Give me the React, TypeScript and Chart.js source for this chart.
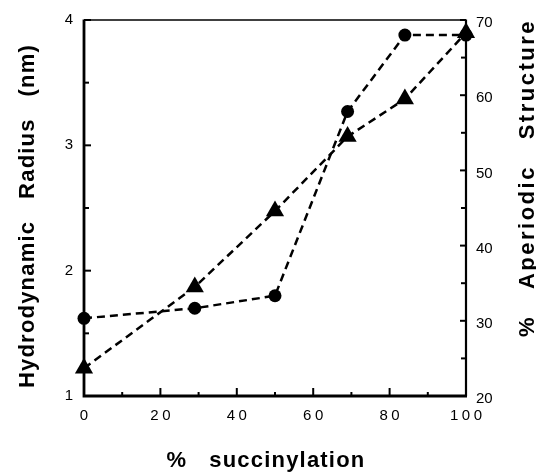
import React, { useEffect, useRef } from 'react';
import { Chart, registerables } from 'chart.js';

Chart.register(...registerables);

// ---- data ----
const succinylation = [0, 29, 50, 69, 84, 100];
const hydrodynamicRadius = [1.62, 1.70, 1.80, 3.27, 3.88, 3.88];
const aperiodicStructure = [23.7, 34.5, 44.6, 54.5, 59.5, 68.3];

const xTitle = '%   succinylation';
const leftTitle = 'Hydrodynamic   Radius   (nm)';
const rightTitle = '%   Aperiodic   Structure';

const FONT = '"Liberation Sans", Arial, Helvetica, sans-serif';

const framePlugin = {
  id: 'framePlugin',
  beforeDatasetsDraw(chart: any) {
    const { ctx, chartArea } = chart;
    const xs = chart.scales.x;
    const ys = chart.scales.y;
    const y1 = chart.scales.y1;
    const { left, right, top, bottom } = chartArea;
    ctx.save();
    ctx.strokeStyle = '#000';
    ctx.lineCap = 'butt';
    // top frame line
    ctx.lineWidth = 1.5;
    ctx.beginPath();
    ctx.moveTo(left, top);
    ctx.lineTo(right, top);
    ctx.stroke();
    // right axis
    ctx.lineWidth = 2.2;
    ctx.beginPath();
    ctx.moveTo(right, top - 0.5);
    ctx.lineTo(right, bottom);
    ctx.stroke();
    // left + bottom axis
    ctx.lineWidth = 2.8;
    ctx.beginPath();
    ctx.moveTo(left, top - 0.5);
    ctx.lineTo(left, bottom);
    ctx.lineTo(right + 1, bottom);
    ctx.stroke();

    // inward ticks
    ctx.lineWidth = 2;
    for (let v = xs.min; v <= xs.max + 1e-9; v += 10) {
      const px = xs.getPixelForValue(v);
      const len = Math.round(v) % 20 === 0 ? 8 : 4;
      ctx.beginPath();
      ctx.moveTo(px, bottom);
      ctx.lineTo(px, bottom - len);
      ctx.stroke();
    }
    for (let v = ys.min; v <= ys.max + 1e-9; v += 0.5) {
      const py = ys.getPixelForValue(v);
      const len = Math.abs(v - Math.round(v)) < 1e-6 ? 7 : 5;
      ctx.beginPath();
      ctx.moveTo(left, py);
      ctx.lineTo(left + len, py);
      ctx.stroke();
    }
    for (let v = y1.min; v <= y1.max + 1e-9; v += 5) {
      const py = y1.getPixelForValue(v);
      const len = Math.round(v) % 10 === 0 ? 6 : 5;
      ctx.beginPath();
      ctx.moveTo(right, py);
      ctx.lineTo(right - len, py);
      ctx.stroke();
    }
    ctx.restore();
  },
  afterDraw(chart: any) {
    const { ctx, chartArea } = chart;
    const xs = chart.scales.x;
    ctx.save();
    ctx.fillStyle = '#000';
    // x tick labels (wide digit spacing)
    ctx.font = `15px ${FONT}`;
    (ctx as any).letterSpacing = '3.5px';
    ctx.textAlign = 'center';
    ctx.textBaseline = 'alphabetic';
    xs.ticks.forEach((t: any) => {
      if (Math.round(t.value) % 20 !== 0) return;
      const px = xs.getPixelForValue(t.value);
      ctx.fillText(String(t.value), px + 1.75, chartArea.bottom + 24);
    });

    // axis titles
    ctx.font = `bold 22px ${FONT}`;
    (ctx as any).letterSpacing = '1.2px';
    ctx.textAlign = 'center';
    ctx.fillText(xTitle, 266, 467);

    ctx.save();
    ctx.translate(34, 216);
    ctx.rotate(-Math.PI / 2);
    ctx.fillText(leftTitle, 0, 0);
    ctx.restore();

    (ctx as any).letterSpacing = '2.5px';
    ctx.save();
    ctx.translate(534, 178);
    ctx.rotate(-Math.PI / 2);
    ctx.fillText(rightTitle, 0, 0);
    ctx.restore();

    ctx.restore();
  },
};

export default function App() {
  const canvasRef = useRef<HTMLCanvasElement | null>(null);

  useEffect(() => {
    if (!canvasRef.current) return;
    Chart.defaults.font.family = FONT;
    Chart.defaults.color = '#000';

    const chart = new Chart(canvasRef.current, {
      type: 'line',
      data: {
        datasets: [
          {
            label: 'Hydrodynamic Radius',
            data: succinylation.map((x, i) => ({ x, y: hydrodynamicRadius[i] })),
            yAxisID: 'y',
            borderColor: '#000',
            backgroundColor: '#000',
            borderWidth: 2.5,
            borderDash: [8, 5],
            pointStyle: 'circle',
            pointRadius: 6.5,
            pointBorderWidth: 0,
            pointBackgroundColor: '#000',
            fill: false,
            tension: 0,
            clip: false as any,
          },
          {
            label: '% Aperiodic Structure',
            data: succinylation.map((x, i) => ({ x, y: aperiodicStructure[i] })),
            yAxisID: 'y1',
            borderColor: '#000',
            backgroundColor: '#000',
            borderWidth: 2.5,
            borderDash: [8, 5],
            pointStyle: 'triangle',
            pointRadius: 10.5,
            pointBorderWidth: 0,
            pointBackgroundColor: '#000',
            fill: false,
            tension: 0,
            clip: false as any,
          },
        ],
      },
      options: {
        responsive: false,
        animation: false,
        events: [],
        layout: { padding: { top: 16, left: 0, right: 0, bottom: 0 } },
        plugins: {
          legend: { display: false },
          tooltip: { enabled: false },
          title: { display: false },
        },
        scales: {
          x: {
            type: 'linear',
            min: 0,
            max: 100,
            grid: { display: false, drawTicks: false },
            border: { display: false },
            ticks: { display: false, stepSize: 10 },
            afterFit: (s: any) => {
              s.height = 77;
            },
          },
          y: {
            type: 'linear',
            position: 'left',
            min: 1,
            max: 4,
            grid: { display: false, drawTicks: false },
            border: { display: false },
            ticks: {
              stepSize: 1,
              padding: 11,
              color: '#000',
              font: { size: 15, family: FONT },
            },
            afterFit: (s: any) => {
              s.width = 84;
            },
          },
          y1: {
            type: 'linear',
            position: 'right',
            min: 20,
            max: 70,
            grid: { display: false, drawTicks: false },
            border: { display: false },
            ticks: {
              stepSize: 10,
              padding: 10,
              labelOffset: 3,
              color: '#000',
              font: { size: 15, family: FONT },
            },
            afterFit: (s: any) => {
              s.width = 70;
            },
          },
        },
      },
      plugins: [framePlugin],
    });

    return () => chart.destroy();
  }, []);

  return (
    <div style={{ position: 'absolute', left: 0, top: 0, width: 536, height: 473, background: '#fff' }}>
      <canvas ref={canvasRef} width={536} height={473} style={{ display: 'block' }} />
    </div>
  );
}
